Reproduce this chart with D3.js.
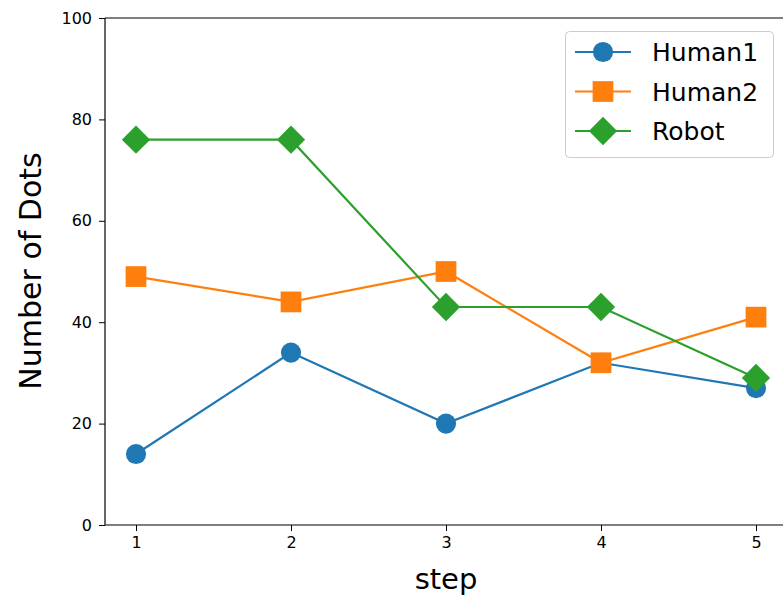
<!DOCTYPE html>
<html><head><meta charset="utf-8">
<script src="https://cdn.jsdelivr.net/npm/d3@7"></script>
<style>body{margin:0;background:#fff}svg{display:block;font-family:"DejaVu Sans",sans-serif}</style>
</head><body><svg id="c" width="783" height="600"></svg>
<script>
const steps = [1, 2, 3, 4, 5];
const human1 = [14, 34, 20, 32, 27];
const human2 = [49, 44, 50, 32, 41];
const robot = [76, 76, 43, 43, 29];
const seriesNames = ["Human1", "Human2", "Robot"];
const colors = ["#1f77b4", "#ff7f0e", "#2ca02c"];
const yTicks = [0, 20, 40, 60, 80, 100];

const svg = d3.select("#c");
const L = 105, T = 18, B = 525;
const x = d3.scaleLinear().domain([0.8, 5.2]).range([L, L + 155 * 4.4]);
const y = d3.scaleLinear().domain([0, 100]).range([B, T]);

const xAx = svg.append("g").attr("transform", `translate(0,${B})`)
  .call(d3.axisBottom(x).tickValues(steps).tickFormat(d3.format("d")).tickSizeOuter(0).tickSize(6).tickPadding(6));
const yAx = svg.append("g").attr("transform", `translate(${L},0)`)
  .call(d3.axisLeft(y).tickValues(yTicks).tickSizeOuter(0).tickSize(6).tickPadding(7));
[xAx, yAx].forEach(g => {
  g.select(".domain").remove();
  g.attr("font-size", 16).attr("font-family", "DejaVu Sans");
  g.selectAll("text").attr("fill", "#000");
  g.selectAll("line").attr("stroke", "#000").attr("stroke-width", 1);
});
// spines
svg.append("line").attr("x1", L).attr("x2", L).attr("y1", T).attr("y2", B).attr("stroke", "#000").attr("stroke-width", 1.2);
svg.append("line").attr("x1", L).attr("x2", 783).attr("y1", B).attr("y2", B).attr("stroke", "#000").attr("stroke-width", 1.2);
svg.append("line").attr("x1", L).attr("x2", 783).attr("y1", T).attr("y2", T).attr("stroke", "#000").attr("stroke-width", 1.2);

const data = [human1, human2, robot];
const shapes = [d3.symbolCircle, d3.symbolSquare, d3.symbolSquare];
const sizes = [320, 430, 400];
const rot = [0, 0, 45];
const line = d3.line().x((d, i) => x(steps[i])).y(d => y(d));
data.forEach((vals, k) => {
  svg.append("path").attr("d", line(vals)).attr("fill", "none").attr("stroke", colors[k]).attr("stroke-width", 2.2);
  svg.selectAll(null).data(vals).enter().append("path")
    .attr("d", d3.symbol().type(shapes[k]).size(sizes[k]))
    .attr("transform", (d, i) => `translate(${x(steps[i])},${y(d)}) rotate(${rot[k]})`)
    .attr("fill", colors[k]);
});

// axis titles
svg.append("text").attr("x", 446).attr("y", 589).attr("text-anchor", "middle").attr("font-size", 29).text("step");
svg.append("text").attr("transform", "translate(41,271) rotate(-90)").attr("text-anchor", "middle").attr("font-size", 30).text("Number of Dots");

// legend
const lg = svg.append("g");
lg.append("rect").attr("x", 565.5).attr("y", 31.5).attr("width", 208).attr("height", 126).attr("rx", 4)
  .attr("fill", "#fff").attr("fill-opacity", 0.8).attr("stroke", "#ccc");
seriesNames.forEach((n, k) => {
  const cy = 52 + k * 39.5;
  lg.append("line").attr("x1", 575).attr("x2", 631).attr("y1", cy).attr("y2", cy).attr("stroke", colors[k]).attr("stroke-width", 2.2);
  lg.append("path").attr("d", d3.symbol().type(shapes[k]).size(sizes[k])).attr("transform", `translate(603,${cy}) rotate(${rot[k]})`).attr("fill", colors[k]);
  lg.append("text").attr("x", 652).attr("y", cy + 9).attr("font-size", 25).text(n);
});
</script></body></html>
